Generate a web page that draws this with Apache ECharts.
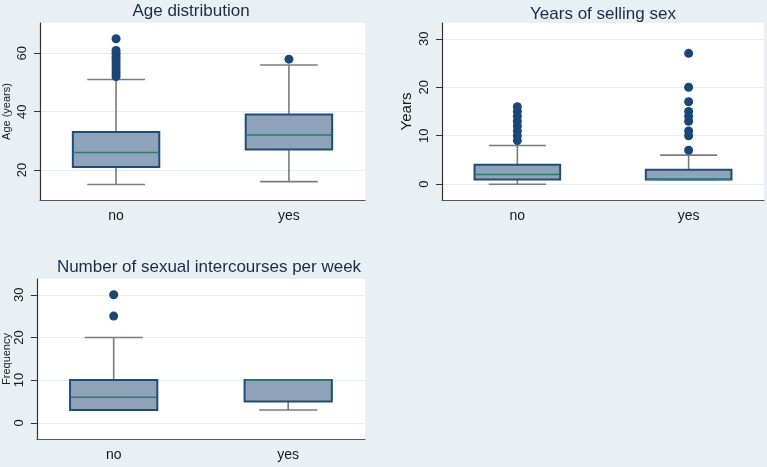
<!DOCTYPE html>
<html>
<head>
<meta charset="utf-8">
<script src="https://cdn.jsdelivr.net/npm/echarts@6/dist/echarts.min.js"></script>
<style>
html,body{margin:0;padding:0;background:#e8f0f4;}
#c{width:767px;height:467px;}
</style>
</head>
<body>
<div id="c"></div>
<script>
// ---- data ----
const categories = ['no', 'yes'];
// [min whisker, Q1, median, Q3, max whisker]
const ageStats = [[15, 21, 26, 33, 51], [16, 27, 32, 39, 56]];
const ageOutliersNo = [52, 53, 54, 55, 56, 57, 58, 59, 60, 61, 65];
const ageOutliersYes = [58];
const yearsStats = [[0, 1, 2, 4, 8], [1, 1, 1, 3, 6]];
const yearsOutliersNo = [9, 10, 11, 12, 13, 14, 15, 16];
const yearsOutliersYes = [7, 10, 11, 13, 14, 15, 17, 20, 27];
const freqStats = [[3, 3, 6, 10, 20], [3, 5, 10, 10, 10]];
const freqOutliersNo = [25, 30];
const freqOutliersYes = [];
const ageTicks = [20, 40, 60];
const yearsTicks = [0, 10, 20, 30];
const freqTicks = [0, 10, 20, 30];

// ---- styles ----
const FONT = "'Liberation Sans', Arial, sans-serif";
const BOX_FILL = '#8ea3b9';
const BOX_BORDER = '#1f4d78';
const MEDIAN = '#2f7a6e';
const WHISKER = '#7b7b7b';
const DOT = '#1a4775';
const BOX_W = 0.5, CAP_W = 0.333;

function boxRender(params, api) {
  const x = api.value(0);
  const lo = api.value(1), q1 = api.value(2), md = api.value(3), q3 = api.value(4), hi = api.value(5);
  const pLo = api.coord([x, lo]), pQ1 = api.coord([x, q1]), pMd = api.coord([x, md]);
  const pQ3 = api.coord([x, q3]), pHi = api.coord([x, hi]);
  const bw = api.size([BOX_W, 0])[0];
  const cw = api.size([CAP_W, 0])[0];
  const cx = pMd[0];
  const wStyle = { stroke: WHISKER, lineWidth: 1.6, fill: null };
  return {
    type: 'group',
    children: [
      { type: 'line', shape: { x1: cx, y1: pLo[1], x2: cx, y2: pQ1[1] }, style: wStyle },
      { type: 'line', shape: { x1: cx, y1: pQ3[1], x2: cx, y2: pHi[1] }, style: wStyle },
      { type: 'line', shape: { x1: cx - cw / 2, y1: pLo[1], x2: cx + cw / 2, y2: pLo[1] }, style: wStyle },
      { type: 'line', shape: { x1: cx - cw / 2, y1: pHi[1], x2: cx + cw / 2, y2: pHi[1] }, style: wStyle },
      { type: 'rect', shape: { x: cx - bw / 2, y: pQ3[1], width: bw, height: pQ1[1] - pQ3[1] },
        style: { fill: BOX_FILL, stroke: BOX_BORDER, lineWidth: 2 } },
      { type: 'line', shape: { x1: cx - bw / 2 + 1, y1: pMd[1], x2: cx + bw / 2 - 1, y2: pMd[1] },
        style: { stroke: MEDIAN, lineWidth: 1.6 } }
    ]
  };
}

function boxData(stats) { return stats.map((s, i) => [i].concat(s)); }
function outData(no, yes) { return no.map(v => [0, v]).concat(yes.map(v => [1, v])); }

const grids = [
  { left: 40, top: 23, width: 325, height: 177 },
  { left: 442, top: 23, width: 322, height: 177 },
  { left: 35, top: 279, width: 330, height: 160 }
];
const yConf = [
  { min: 9.7, max: 70.4, ticks: ageTicks, name: 'Age (years)', nameSize: 11, nameGap: 28 },
  { min: -3.25, max: 33.25, ticks: yearsTicks, name: 'Years', nameSize: 15, nameGap: 28 },
  { min: -3.8, max: 33.7, ticks: freqTicks, name: 'Frequency', nameSize: 11, nameGap: 22 }
];

const option = {
  backgroundColor: '#e8f0f4',
  animation: false,
  title: [
    { text: 'Age distribution', left: 186, top: -2, textAlign: 'center' },
    { text: 'Years of selling sex', left: 598, top: 1, textAlign: 'center' },
    { text: 'Number of sexual intercourses per week', left: 204, top: 254, textAlign: 'center' }
  ].map(t => Object.assign(t, { textStyle: { fontFamily: FONT, fontSize: 17, fontWeight: 'normal', color: '#1e2a4a' } })),
  grid: grids.map(g => Object.assign({ show: true, backgroundColor: '#ffffff', borderWidth: 0 }, g)),
  xAxis: grids.map((g, i) => ({
    type: 'value', gridIndex: i, min: -0.44, max: 1.44,
    axisLine: { show: true, onZero: false, lineStyle: { color: '#555', width: 1.2 } },
    axisTick: { show: false },
    splitLine: { show: false },
    axisLabel: {
      customValues: [0, 1], margin: 9, fontFamily: FONT, fontSize: 14, color: '#1a1a1a',
      formatter: v => categories[Math.round(v)]
    }
  })),
  yAxis: yConf.map((c, i) => ({
    type: 'value', gridIndex: i, min: c.min, max: c.max,
    name: c.name, nameLocation: 'middle', nameGap: c.nameGap,
    nameTextStyle: { fontFamily: FONT, fontSize: c.nameSize, color: '#1a1a1a' },
    axisLine: { show: true, onZero: false, lineStyle: { color: '#333', width: 1.2 } },
    axisTick: { show: true, length: 6, customValues: c.ticks, lineStyle: { color: '#333' } },
    axisLabel: { customValues: c.ticks, rotate: 90, margin: 11, fontFamily: FONT, fontSize: 13, color: '#1a1a1a' },
    splitLine: { show: true, lineStyle: { color: '#e6edf2', width: 1 } }
  })),
  series: [
    { type: 'custom', xAxisIndex: 0, yAxisIndex: 0, renderItem: boxRender, data: boxData(ageStats), encode: { x: 0, y: [1, 2, 3, 4, 5] } },
    { type: 'custom', xAxisIndex: 1, yAxisIndex: 1, renderItem: boxRender, data: boxData(yearsStats), encode: { x: 0, y: [1, 2, 3, 4, 5] } },
    { type: 'custom', xAxisIndex: 2, yAxisIndex: 2, renderItem: boxRender, data: boxData(freqStats), encode: { x: 0, y: [1, 2, 3, 4, 5] } },
    { type: 'scatter', xAxisIndex: 0, yAxisIndex: 0, symbolSize: 9, itemStyle: { color: DOT, opacity: 1 }, data: outData(ageOutliersNo, ageOutliersYes) },
    { type: 'scatter', xAxisIndex: 1, yAxisIndex: 1, symbolSize: 9, itemStyle: { color: DOT, opacity: 1 }, data: outData(yearsOutliersNo, yearsOutliersYes) },
    { type: 'scatter', xAxisIndex: 2, yAxisIndex: 2, symbolSize: 9, itemStyle: { color: DOT, opacity: 1 }, data: outData(freqOutliersNo, freqOutliersYes) }
  ]
};

const chart = echarts.init(document.getElementById('c'), null, { renderer: 'canvas' });
chart.setOption(option);
</script>
</body>
</html>
